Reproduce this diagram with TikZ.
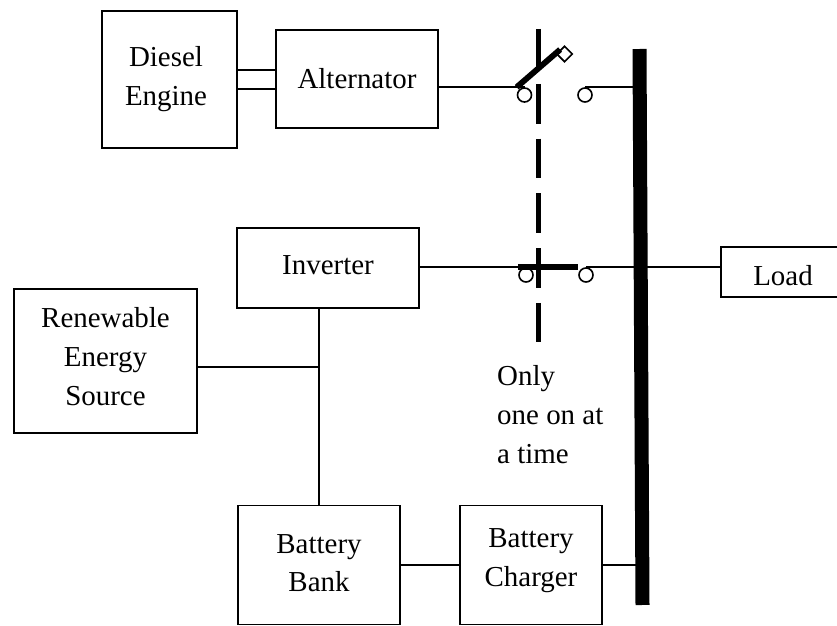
\documentclass[tikz,border=0pt]{standalone}
\usepackage{fontspec}
\usetikzlibrary{shapes.geometric}
\setmainfont{Liberation Serif}
\newcommand{\lifttext}[1]{\rule[-#1]{0pt}{#1}}
\tikzset{
  block/.style={draw,line width=1.4pt,inner sep=0pt,align=center,font=\fontsize{24.7}{33.2}\selectfont},
  contact/.style={draw,circle,line width=1.4pt,minimum size=0.42cm,inner sep=0pt},
  wire/.style={line width=1.4pt},
  arm/.style={line width=5pt},
  tie/.style={line width=4.5pt},
}
\begin{document}
\begin{tikzpicture}[x=0.03cm,y=-0.03cm]
\useasboundingbox (0,0) rectangle (837,626);
\node[block,minimum width=4.05cm,minimum height=4.11cm] (diesel) at (169.5,79.5) {Diesel\hspace*{6pt}\\Engine\hspace*{6pt}};
\node[block,minimum width=4.86cm,minimum height=2.94cm] (alternator) at (357,79) {Alternator};
\node[block,minimum width=5.46cm,minimum height=2.4cm] (inverter) at (328,268) {Inverter\lifttext{5pt}};
\node[block,minimum width=5.49cm,minimum height=4.32cm] (renewable) at (105.5,361) {Renewable\\Energy\\Source\lifttext{7.6pt}};
\node[block,minimum width=4.86cm,minimum height=3.57cm] (bank) at (319,565) {Battery\\Bank\lifttext{3.4pt}};
\node[block,minimum width=4.26cm,minimum height=3.57cm] (charger) at (531,565) {Battery\\Charger\lifttext{12.2pt}};
\node[block,minimum width=3.72cm,minimum height=1.5cm] (load) at (783,272) {\rule{0pt}{23.6pt}Load};
\node[fill=black,inner sep=0pt,minimum width=0.42cm,minimum height=16.68cm,rotate=0.31] (bus) at (641,327) {};
\node[font=\fontsize{24.7}{33.5}\selectfont,align=left,anchor=north west,inner sep=0pt] (note) at (497,365) {Only\\one on at\\a time};

% engine shaft
\coordinate (shaftA) at (0,70);
\coordinate (shaftB) at (0,89);
\draw[wire] (diesel.east |- shaftA) -- (alternator.west |- shaftA);
\draw[wire] (diesel.east |- shaftB) -- (alternator.west |- shaftB);

% upper switch, open
\node[contact] (c1) at (524.5,95) {};
\node[contact] (c2) at (585,95) {};
\draw[wire] (alternator.east |- c1.north) -- (c1.north);
\draw[wire] (c2.north) -- (bus.center |- c2.north);
\node[draw,diamond,line width=1.4pt,minimum size=0.48cm,inner sep=0pt] (knob) at (564.5,54) {};
\draw[arm] (c1.west |- c1.north) -- (knob.north west);

% lower switch, closed
\node[contact] (c3) at (526,275) {};
\node[contact] (c4) at (586,275) {};
\draw[wire] (inverter.east |- c3.north) -- (c3.north);
\draw[wire] (c4.north) -- (load.west |- c4.north);
\draw[arm] (c3.west |- c3.north) -- (c4.west |- c3.north);

% mechanical tie
\coordinate (tieA) at (538.7,29);
\coordinate (tieB) at (538.7,342);
\draw[tie,dash pattern=on 34pt off 12.77pt] (tieA) -- (tieB);

% battery side
\coordinate (tap) at (bank.north |- 0,367);
\draw[wire] (inverter.south -| bank.north) -- (bank.north);
\draw[wire] (renewable.east |- tap) -- (tap);
\draw[wire] (bank.east) -- (charger.west);
\draw[wire] (charger.east) -- (bus.center |- charger.east);
\end{tikzpicture}
\end{document}
